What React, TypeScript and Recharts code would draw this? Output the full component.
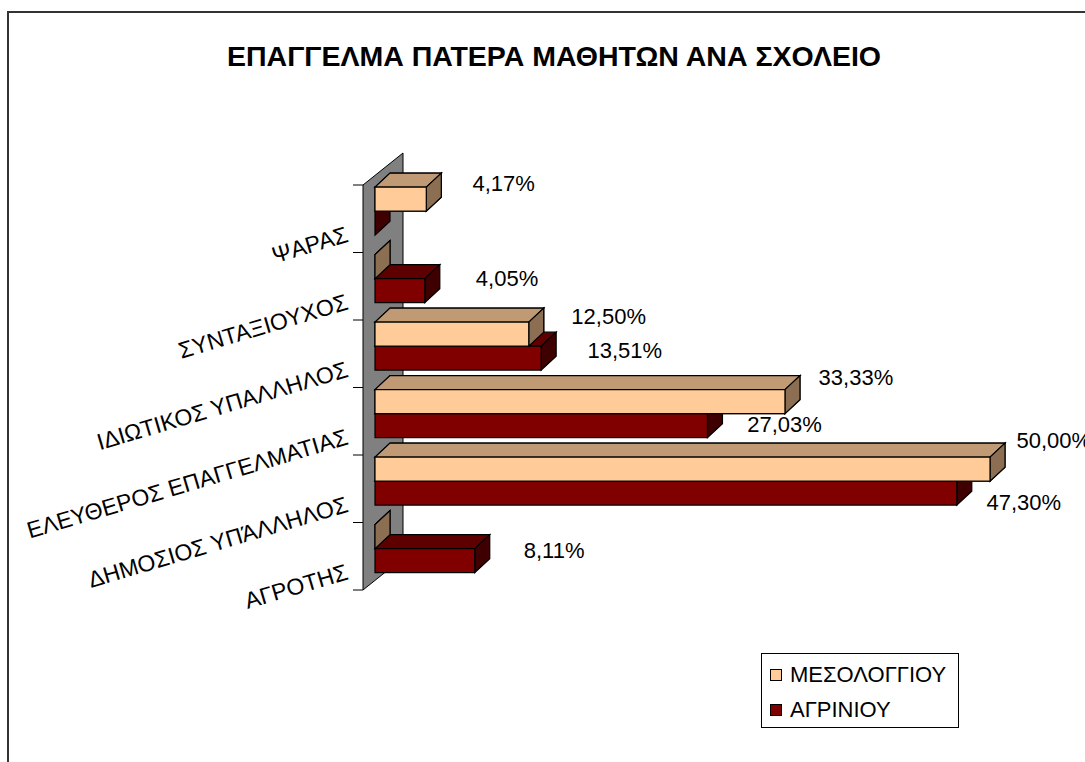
import React from "react";
import { BarChart, Bar, XAxis, YAxis, LabelList, Legend } from "recharts";

const title = "ΕΠΑΓΓΕΛΜΑ ΠΑΤΕΡΑ ΜΑΘΗΤΩΝ ΑΝΑ ΣΧΟΛΕΙΟ";
const categories = [
  "ΨΑΡΑΣ",
  "ΣΥΝΤΑΞΙΟΥΧΟΣ",
  "ΙΔΙΩΤΙΚΟΣ ΥΠΑΛΛΗΛΟΣ",
  "ΕΛΕΥΘΕΡΟΣ ΕΠΑΓΓΕΛΜΑΤΙΑΣ",
  "ΔΗΜΟΣΙΟΣ ΥΠΆΛΛΗΛΟΣ",
  "ΑΓΡΟΤΗΣ",
];
const mesologgiou = [4.17, 0, 12.5, 33.33, 50.0, 0];
const agriniou = [0, 4.05, 13.51, 27.03, 47.3, 8.11];
const seriesNames = ["ΜΕΣΟΛΟΓΓΙΟΥ", "ΑΓΡΙΝΙΟΥ"];

const data = categories.map((name, i) => ({
  name,
  mes: mesologgiou[i],
  agr: agriniou[i],
}));

const WIDTH = 1085;
const HEIGHT = 762;
const MARGIN = { top: 185, right: 95, bottom: 172, left: 0 };
const AXIS_W = 375;
const PLOT_TOP = MARGIN.top;
const PLOT_BOTTOM = HEIGHT - MARGIN.bottom;
const BAND = (PLOT_BOTTOM - PLOT_TOP) / categories.length;
// fake 3d depth
const DEPTH_X = 15;
const DEPTH_Y = 14;
const LIFT = 8;
const WALL_X = 40;
const WALL_Y = 32;
const WALL_IN = 12;
const FONT = '"Liberation Sans", Arial, sans-serif';

const COLORS = {
  mes: { front: "#FFCC99", top: "#C09A74", side: "#8C6F52" },
  agr: { front: "#800000", top: "#5E0000", side: "#3E0000" },
};

const pts = (arr: number[][]) => arr.map((p) => p.join(",")).join(" ");

const fmt = (v: number) => v.toFixed(2).replace(".", ",") + "%";

const Box3D = ({ x, y, width, height, c, id }: any) => {
  const y0 = y - LIFT;
  const x1 = x + width;
  return (
    <g id={id}>
      <polygon
        points={pts([
          [x, y0],
          [x + DEPTH_X, y0 - DEPTH_Y],
          [x1 + DEPTH_X, y0 - DEPTH_Y],
          [x1, y0],
        ])}
        fill={c.top}
        stroke="#000"
        strokeWidth={1.2}
      />
      <polygon
        points={pts([
          [x1, y0],
          [x1 + DEPTH_X, y0 - DEPTH_Y],
          [x1 + DEPTH_X, y0 + height - DEPTH_Y],
          [x1, y0 + height],
        ])}
        fill={c.side}
        stroke="#000"
        strokeWidth={1.2}
      />
      <rect x={x} y={y0} width={width} height={height} fill={c.front} stroke="#000" strokeWidth={1.2} />
    </g>
  );
};

// grey back wall, drawn once under the first bar
const Wall = ({ x }: { x: number }) => {
  const wx = x - WALL_IN;
  return (
    <polygon
      points={pts([
        [wx, PLOT_TOP],
        [wx + WALL_X, PLOT_TOP - WALL_Y],
        [wx + WALL_X, PLOT_BOTTOM - WALL_Y],
        [wx, PLOT_BOTTOM],
      ])}
      fill="#808080"
      stroke="#000"
      strokeWidth={1}
    />
  );
};

const MesShape = (props: any) => (
  <g>
    {props.index === 0 && <Wall x={props.x} />}
    <Box3D {...props} c={COLORS.mes} id={`mes-box-${props.index}`} />
  </g>
);

// lower bar is drawn first, then the upper one is re-used on top of it
const AgrShape = (props: any) => (
  <g>
    <Box3D {...props} c={COLORS.agr} />
    <use href={`#mes-box-${props.index}`} />
  </g>
);

// labels drift with bar length, like the perspective view of the original
const makeLabel = (dx0: number, dxk: number, dy0: number, dyk: number) => (props: any) => {
  const vb = props.viewBox ?? props;
  const { x, y, width, height } = vb;
  const value = props.value;
  if (!value) return null;
  return (
    <text
      x={x + width + dx0 + dxk * width}
      y={y - LIFT + height / 2 + dy0 + dyk * width}
      dominantBaseline="central"
      fontSize={22}
      fontFamily={FONT}
      fill="#000"
    >
      {fmt(Number(value))}
    </text>
  );
};

const CategoryTick = (props: any) => {
  const { x, y, payload, index } = props;
  const top = y - BAND / 2;
  const wx = x - WALL_IN;
  return (
    <g>
      <line x1={x - 22} x2={wx} y1={top} y2={top} stroke="#000" />
      {index === categories.length - 1 && (
        <line x1={x - 22} x2={wx} y1={top + BAND} y2={top + BAND} stroke="#000" />
      )}
      <text
        transform={`translate(${x - 28} ${y + 15}) rotate(-16.5)`}
        textAnchor="end"
        dominantBaseline="central"
        fontSize={23}
        fontFamily={FONT}
        fill="#000"
      >
        {payload.value}
      </text>
    </g>
  );
};

const renderLegend = (props: any) => {
  const items = [...(props.payload || [])].sort(
    (a: any, b: any) => seriesNames.indexOf(a.value) - seriesNames.indexOf(b.value)
  );
  return (
    <div
      style={{
        border: "1px solid #000",
        width: 198,
        height: 75,
        boxSizing: "border-box",
        background: "#fff",
        padding: "3px 0 0 8px",
        fontFamily: FONT,
      }}
    >
      {items.map((p: any) => (
        <div key={p.value} style={{ display: "flex", alignItems: "center", height: 35 }}>
          <span
            style={{
              width: 12,
              height: 12,
              boxSizing: "border-box",
              border: "1px solid #000",
              background: p.color,
              marginRight: 8,
            }}
          />
          <span style={{ fontSize: 22, lineHeight: "22px", color: "#000" }}>{p.value}</span>
        </div>
      ))}
    </div>
  );
};

export default function App() {
  return (
    <div
      style={{
        position: "relative",
        width: WIDTH,
        height: HEIGHT,
        overflow: "hidden",
        background: "#fff",
        fontFamily: FONT,
      }}
    >
      <style>{"body{margin:0}"}</style>
      <div
        style={{
          position: "absolute",
          left: 7,
          top: 11,
          width: 1200,
          height: 900,
          borderLeft: "2px solid #333",
          borderTop: "2px solid #333",
        }}
      />
      <div
        style={{
          position: "absolute",
          left: 0,
          top: 42,
          width: 1108,
          textAlign: "center",
          fontWeight: "bold",
          fontSize: 28.5,
          lineHeight: "28px",
          color: "#000",
        }}
      >
        {title}
      </div>
      <BarChart
        width={WIDTH}
        height={HEIGHT}
        data={data}
        layout="vertical"
        margin={MARGIN}
        barCategoryGap="15%"
        barGap={0}
      >
        <XAxis type="number" domain={[0, 50]} hide />
        <YAxis
          type="category"
          dataKey="name"
          width={AXIS_W}
          axisLine={false}
          tickLine={false}
          tickSize={0}
          tickMargin={0}
          interval={0}
          tick={<CategoryTick />}
        />
        <Legend
          layout="vertical"
          align="center"
          verticalAlign="middle"
          wrapperStyle={{ left: 761, top: 653, width: 198 }}
          content={renderLegend}
        />
        <Bar
          dataKey="mes"
          name={seriesNames[0]}
          fill={COLORS.mes.front}
          shape={MesShape}
          isAnimationActive={false}
        >
          <LabelList dataKey="mes" content={makeLabel(48, -0.035, -14, -0.024)} />
        </Bar>
        <Bar
          dataKey="agr"
          name={seriesNames[1]}
          fill={COLORS.agr.front}
          shape={AgrShape}
          isAnimationActive={false}
        >
          <LabelList dataKey="agr" content={makeLabel(53, -0.04, -14, 0.04)} />
        </Bar>
      </BarChart>
    </div>
  );
}
